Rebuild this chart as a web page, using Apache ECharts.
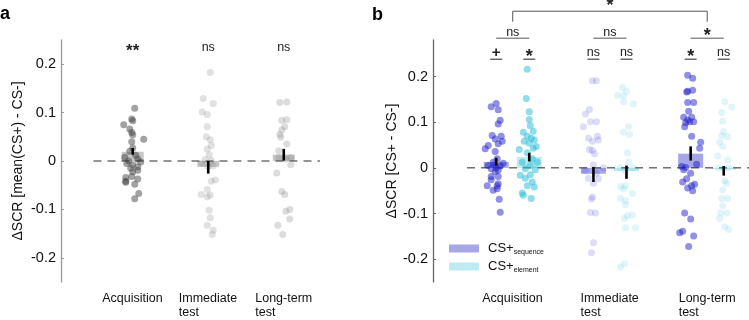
<!DOCTYPE html>
<html><head><meta charset="utf-8">
<script src="https://cdn.jsdelivr.net/npm/echarts@6/dist/echarts.min.js"></script>
<style>html,body{margin:0;padding:0;background:#fff;}#chart{width:749px;height:320px;}</style>
</head><body><div id="chart"></div>
<script>
const categories = ['Acquisition', 'Immediate\ntest', 'Long-term\ntest'];
const yTickValues = [-0.2, -0.1, 0, 0.1, 0.2];
const yTickLabels = ['-0.2', '-0.1', '0', '0.1', '0.2'];

// ---------- Panel a : ΔSCR [mean(CS+) - CS-] ----------
const aAcqValues = [0.109,0.087,0.083,0.075,0.066,0.059,0.054,0.045,0.040,0.027,0.020,0.012,0.008,0.004,0.000,-0.002,-0.005,-0.008,-0.012,-0.015,-0.019,-0.022,-0.032,-0.034,-0.037,-0.042,-0.044,-0.048,-0.067,-0.078];
const aAcqJitter = [2,-1,0,-9,-3,-1,0,11,-1,0,-3,3,-8,5,-4,8,-6,0,5,-2,5,0,-1,-7,5,-7,-7,2,6,2];
const aImmValues = [0.183,0.129,0.119,0.101,0.096,0.071,0.050,0.044,0.032,0.025,0.013,0.003,0.001,-0.005,-0.010,-0.012,-0.039,-0.042,-0.059,-0.069,-0.071,-0.074,-0.102,-0.117,-0.133,-0.143,-0.152];
const aImmJitter = [2,-5,5,-6,-1,-1,-2,2,3,-1,1,-3,3,-6,5,0,7,3,-1,-7,2,-1,1,2,-1,5,4];
const aLtValues = [0.122,0.121,0.085,0.084,0.071,0.064,0.055,0.049,0.035,0.021,0.007,0.007,0.004,-0.008,-0.025,-0.063,-0.069,-0.100,-0.104,-0.120,-0.133,-0.152];
const aLtJitter = [3,-4,3,-2,1,-2,-4,-3,3,-5,-5,7,2,7,-7,-2,1,6,2,6,-6,-1];
const aMeans = [0.019, -0.012, 0.013];
const aErrLow = [0.013, -0.026, 0.001];
const aErrHigh = [0.027, 0.000, 0.025];
const aSig = ['**', 'ns', 'ns'];

// ---------- Panel b : ΔSCR [CS+ - CS-] ----------
const bAcqSeqValues = [0.141,0.134,0.127,0.104,0.096,0.071,0.069,0.063,0.058,0.053,0.049,0.042,0.036,0.020,0.012,0.010,0.006,0.005,0.004,0.000,-0.002,-0.005,-0.008,-0.019,-0.019,-0.026,-0.035,-0.039,-0.039,-0.046,-0.049,-0.069,-0.097];
const bAcqSeqJitter = [0,-5,2,4,2,-4,5,-1,6,2,-8,-11,-1,1,-3,7,-2,-8,4,0,-5,2,-1,-5,2,-5,2,-9,1,1,-3,3,4];
const bAcqElemValues = [0.216,0.152,0.123,0.106,0.093,0.080,0.078,0.069,0.065,0.061,0.058,0.054,0.047,0.043,0.040,0.033,0.020,0.012,0.012,0.005,-0.002,-0.004,-0.015,-0.016,-0.023,-0.031,-0.039,-0.042,-0.055,-0.060,-0.067];
const bAcqElemJitter = [-2,-3,0,0,1,4,-6,-2,2,5,-5,0,7,4,-10,-2,3,-7,8,1,-4,6,1,-9,-4,3,-2,5,-7,-6,2];
const bImmSeqValues = [0.191,0.191,0.128,0.118,0.101,0.101,0.090,0.069,0.065,0.061,0.058,0.040,0.038,0.031,0.007,0.000,-0.005,-0.012,-0.023,-0.024,-0.034,-0.064,-0.068,-0.098,-0.099,-0.164,-0.186];
const bImmSeqJitter = [-1,3,-4,-8,-3,3,-10,4,-5,5,-1,-4,-1,1,0,10,-8,3,-5,5,0,-1,-2,-3,2,0,-2];
const bImmElemValues = [0.176,0.168,0.159,0.158,0.145,0.140,0.090,0.078,0.073,0.033,0.013,0.000,0.000,-0.007,-0.039,-0.041,-0.046,-0.056,-0.067,-0.072,-0.081,-0.103,-0.105,-0.111,-0.131,-0.131,-0.210,-0.217];
const bImmElemJitter = [-4,0,-9,-3,-3,7,2,-3,3,1,2,-6,6,-1,-1,-6,-3,6,-6,-1,-1,6,1,-2,-1,9,-2,-6];
const bLtSeqValues = [0.203,0.196,0.170,0.168,0.166,0.143,0.143,0.124,0.111,0.111,0.105,0.101,0.101,0.099,0.090,0.069,0.056,0.043,0.008,0.003,0.001,-0.004,-0.012,-0.024,-0.031,-0.039,-0.036,-0.044,-0.050,-0.099,-0.112,-0.139,-0.142,-0.149,-0.172];
const bLtSeqJitter = [-3,2,2,-3,-4,-3,3,-2,-7,1,-3,-1,3,-5,-6,1,10,9,6,-9,-5,-7,0,-4,-8,1,4,-3,2,-6,0,-8,-11,3,-2];
const bLtElemValues = [0.145,0.133,0.121,0.102,0.079,0.071,0.068,0.056,0.047,0.026,0.017,0.000,0.000,-0.002,-0.028,-0.034,-0.048,-0.067,-0.067,-0.083,-0.099,-0.099,-0.111,-0.129,-0.135];
const bLtElemJitter = [1,8,-2,-1,0,-2,4,-4,-1,-6,4,-5,5,0,1,3,-1,-2,4,-1,-3,3,-4,1,5];
const bSeqMeans = [0.013, -0.013, 0.031];
const bSeqErrLow = [0.005, -0.031, 0.016];
const bSeqErrHigh = [0.022, 0.002, 0.047];
const bElemMeans = [0.024, -0.007, -0.003];
const bElemErrLow = [0.014, -0.024, -0.017];
const bElemErrHigh = [0.033, 0.005, 0.004];
const bSigSeq = ['+', 'ns', '*'];
const bSigElem = ['*', 'ns', 'ns'];
const bSigPair = ['ns', 'ns', '*'];
const bSigAcross = '*';
const legendNames = ['sequence', 'element'];

// ---------- layout / style ----------
const FONT = "'Liberation Sans', Arial, Helvetica, sans-serif";
const LABEL_SIZE = 12.5;
const PXA = 75.5, PXB = 97.3;     // pixels per category unit (for jitter)
const OFF = 0.17;                 // half distance between seq/elem bars
const toPts = (vals, jit, cx, px) => vals.map((v, i) => [cx + jit[i] / px, v]);

// measure label blocks so multi-line labels are left-aligned inside a centred block
const mctx = document.createElement('canvas').getContext('2d');
mctx.font = LABEL_SIZE + 'px ' + FONT;
const labelRich = {};
categories.forEach((c, i) => {
  const w = Math.max(...c.split('\n').map(s => mctx.measureText(s).width));
  labelRich['c' + i] = {fontFamily: FONT, fontSize: LABEL_SIZE, color: '#111', lineHeight: 14, width: Math.ceil(w), align: 'left'};
});

const chart = echarts.init(document.getElementById('chart'), null, {renderer: 'canvas'});

function scatter(xi, data, color) {
  return {type: 'scatter', xAxisIndex: xi, yAxisIndex: xi, data, symbolSize: 7,
    itemStyle: {color}, z: 4, silent: true, animation: false};
}
function errBars(xi, xs, lo, hi) {
  return {type: 'custom', xAxisIndex: xi, yAxisIndex: xi, z: 6, silent: true, animation: false,
    data: xs.map((x, i) => [x, lo[i], hi[i]]),
    renderItem(params, api) {
      const p1 = api.coord([api.value(0), api.value(1)]);
      const p2 = api.coord([api.value(0), api.value(2)]);
      return {type: 'line', shape: {x1: p1[0], y1: p1[1], x2: p2[0], y2: p2[1]},
        style: {stroke: '#000', lineWidth: 2.6}};
    }};
}
function zeroLine(xi, x0, x1) {
  return {type: 'line', xAxisIndex: xi, yAxisIndex: xi, data: [[x0, 0], [x1, 0]], symbol: 'none',
    lineStyle: {color: '#2a2a2a', width: 1, type: [8, 6]}, z: 3, silent: true, animation: false};
}
const xLabel = {
  customValues: [0, 1, 2], margin: 10, fontFamily: FONT, fontSize: LABEL_SIZE, color: '#111', lineHeight: 14,
  formatter: (v) => { const i = Math.round(v); return categories[i].split('\n').map(s => '{c' + i + '|' + s + '}').join('\n'); },
  rich: labelRich
};
function yAxis(gi, min, max, name, gap, color) {
  return {type: 'value', gridIndex: gi, min, max, name, nameLocation: 'middle', nameGap: gap,
    nameTextStyle: {fontFamily: FONT, fontSize: 14, color: '#111'},
    axisLine: {show: true, onZero: false, lineStyle: {color, width: 1.3}},
    axisTick: {show: true, inside: true, length: 3, customValues: yTickValues, lineStyle: {color}},
    axisLabel: {customValues: yTickValues, fontFamily: FONT, fontSize: 14.5, color: '#111', margin: 5,
      formatter: (v) => yTickLabels[yTickValues.findIndex(t => Math.abs(t - v) < 1e-9)] ?? ''},
    splitLine: {show: false}};
}

const seqCol = 'rgba(30,30,200,0.62)', seqColLight = 'rgba(60,60,210,0.22)';
const elemCol = 'rgba(40,190,215,0.65)', elemColLight = 'rgba(60,195,220,0.2)';

const annotA = {
  type: 'custom', xAxisIndex: 0, yAxisIndex: 0, silent: true, animation: false, z: 7,
  data: aSig.map((s, i) => [i, 0]),
  renderItem(params, api) {
    const i = params.dataIndex, s = aSig[i];
    const p = api.coord([api.value(0), 0.235]);
    const star = s.indexOf('*') >= 0;
    return {type: 'text', x: p[0], y: p[1] + (star ? 4 : 0),
      style: {text: s, fill: '#222', fontFamily: FONT, fontSize: star ? 17 : 12.5, fontWeight: star ? 'bold' : 'normal',
        align: 'center', verticalAlign: 'middle'}};
  }
};
function sigText(x, y, s) {
  const star = s === '*', plus = s === '+';
  return {type: 'text', x, y: y + (star ? 4 : 0),
    style: {text: s, fill: '#222', fontFamily: FONT, fontSize: star ? 18 : (plus ? 15 : 12.5),
      fontWeight: (star || plus) ? 'bold' : 'normal', align: 'center', verticalAlign: 'middle'}};
}
function hline(x1, x2, y, col) {
  return {type: 'line', shape: {x1, y1: y, x2, y2: y}, style: {stroke: col || '#444', lineWidth: 1}};
}
const annotB = {
  type: 'custom', xAxisIndex: 1, yAxisIndex: 1, silent: true, animation: false, z: 7, clip: false,
  data: bSigPair.map((s, i) => [i, 0]),
  renderItem(params, api) {
    const i = params.dataIndex;
    const ps = api.coord([i - OFF, 0.252]), pe = api.coord([i + OFF, 0.252]);
    const ul = api.coord([i, 0.238])[1];
    const pp = api.coord([i, 0.297]), pl = api.coord([i, 0.284])[1];
    const children = [
      sigText(ps[0], ps[1], bSigSeq[i]), hline(ps[0] - 6, ps[0] + 6, ul, '#222'),
      sigText(pe[0], pe[1], bSigElem[i]), hline(pe[0] - 6, pe[0] + 6, ul, '#222'),
      sigText(pp[0], pp[1], bSigPair[i]), hline(ps[0], pe[0], pl, '#555')
    ];
    if (i === 0) {
      const a = api.coord([0, 0.343]), b = api.coord([2, 0.343]);
      const tb = api.coord([0, 0.320])[1];
      const t = api.coord([1, 0.364]);
      children.push({type: 'polyline', shape: {points: [[a[0], tb], [a[0], a[1]], [b[0], b[1]], [b[0], tb]]},
        style: {stroke: '#555', lineWidth: 1, fill: null}});
      children.push(sigText(t[0], t[1], bSigAcross));
    }
    return {type: 'group', children};
  }
};

const option = {
  backgroundColor: '#fff',
  animation: false,
  title: [
    {text: 'a', left: 0, top: 5, padding: 0, textStyle: {fontFamily: FONT, fontSize: 18, fontWeight: 'bold', color: '#000'}},
    {text: 'b', left: 372, top: 6, padding: 0, textStyle: {fontFamily: FONT, fontSize: 18, fontWeight: 'bold', color: '#000'}}
  ],
  grid: [
    {left: 61, top: 40, width: 259, height: 247},
    {left: 433, top: 40, width: 316, height: 247}
  ],
  legend: {
    data: legendNames, orient: 'vertical', left: 444, top: 237, itemWidth: 30, itemHeight: 8, itemGap: 4,
    icon: 'rect', selectedMode: false,
    formatter: (n) => '{m|CS+}{s|' + n + '}',
    textStyle: {rich: {m: {fontFamily: FONT, fontSize: 13, color: '#111', padding: [0, 0, 0, 4]},
      s: {fontFamily: FONT, fontSize: 7, color: '#111', verticalAlign: 'bottom', padding: [8, 0, 0, 0]}}}
  },
  xAxis: [
    {type: 'value', gridIndex: 0, min: -0.95, max: 2.48, axisLine: {show: false}, axisTick: {show: false},
      splitLine: {show: false}, axisLabel: xLabel},
    {type: 'value', gridIndex: 1, min: -0.82, max: 2.43, axisLine: {show: false}, axisTick: {show: false},
      splitLine: {show: false}, axisLabel: xLabel}
  ],
  yAxis: [
    yAxis(0, -0.25, 0.25, 'ΔSCR [mean(CS+) - CS-]', 36, '#9a9a9a'),
    yAxis(1, -0.25, 0.28, 'ΔSCR [CS+ - CS-]', 31, '#666')
  ],
  series: [
    // panel a
    {type: 'bar', name: 'a-mean', xAxisIndex: 0, yAxisIndex: 0, barWidth: 22, z: 2, silent: true,
      data: aMeans.map((m, i) => [i, m]), itemStyle: {color: 'rgba(130,130,130,0.45)'}},
    zeroLine(0, -0.52, 2.48),
    scatter(0, toPts(aAcqValues, aAcqJitter, 0, PXA), 'rgba(60,60,60,0.6)'),
    scatter(0, toPts(aImmValues, aImmJitter, 1, PXA), 'rgba(120,120,120,0.28)'),
    scatter(0, toPts(aLtValues, aLtJitter, 2, PXA), 'rgba(120,120,120,0.32)'),
    errBars(0, [0, 1, 2], aErrLow, aErrHigh),
    annotA,
    // panel b
    {type: 'bar', name: 'sequence', xAxisIndex: 1, yAxisIndex: 1, barWidth: 25, barGap: '-100%', z: 2,
      data: bSeqMeans.map((m, i) => [i - OFF, m]), itemStyle: {color: 'rgba(80,80,210,0.5)'}},
    {type: 'bar', name: 'element', xAxisIndex: 1, yAxisIndex: 1, barWidth: 25, barGap: '-100%', z: 2,
      data: bElemMeans.map((m, i) => [i + OFF, m]), itemStyle: {color: 'rgba(100,205,225,0.42)'}},
    zeroLine(1, -0.47, 2.43),
    scatter(1, toPts(bAcqSeqValues, bAcqSeqJitter, 0 - OFF, PXB), seqCol),
    scatter(1, toPts(bAcqElemValues, bAcqElemJitter, 0 + OFF, PXB), elemCol),
    scatter(1, toPts(bImmSeqValues, bImmSeqJitter, 1 - OFF, PXB), seqColLight),
    scatter(1, toPts(bImmElemValues, bImmElemJitter, 1 + OFF, PXB), elemColLight),
    scatter(1, toPts(bLtSeqValues, bLtSeqJitter, 2 - OFF, PXB), seqCol),
    scatter(1, toPts(bLtElemValues, bLtElemJitter, 2 + OFF, PXB), elemColLight),
    errBars(1, [0 - OFF, 1 - OFF, 2 - OFF], bSeqErrLow, bSeqErrHigh),
    errBars(1, [0 + OFF, 1 + OFF, 2 + OFF], bElemErrLow, bElemErrHigh),
    annotB
  ]
};
chart.setOption(option);
</script>
</body></html>
